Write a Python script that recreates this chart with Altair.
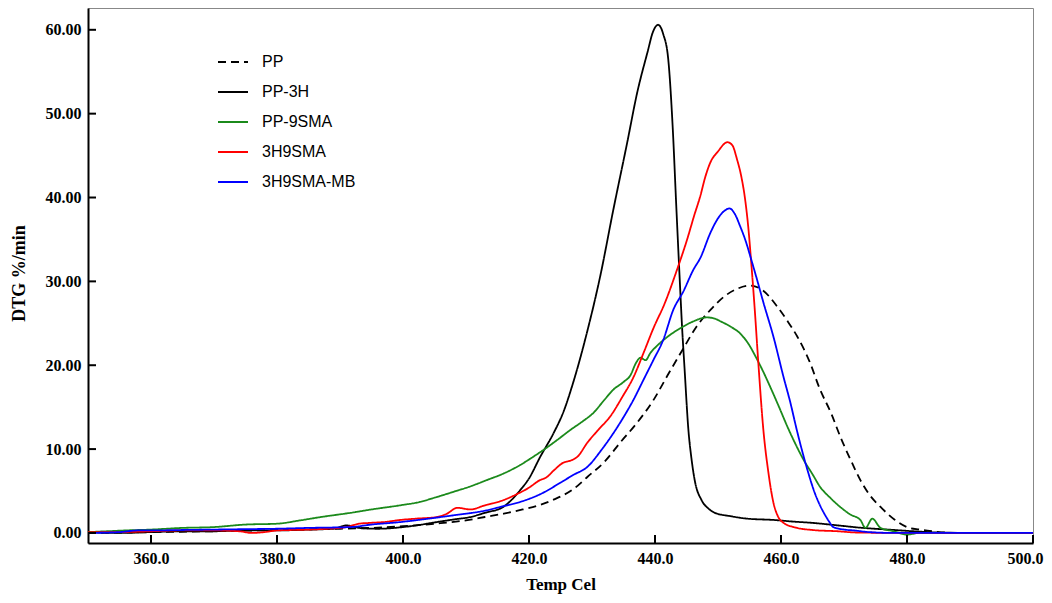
import altair as alt
import pandas as pd

SERIES = ["PP", "PP-3H", "PP-9SMA", "3H9SMA", "3H9SMA-MB"]
COLORS = ["#000000", "#000000", "#1b8a1b", "#ff0000", "#0000ff"]
DASHES = [[8, 5], [1, 0], [1, 0], [1, 0], [1, 0]]

pp_t = [350, 360, 370, 380, 390, 395, 400, 405, 410, 413, 416, 419, 422, 424, 427, 429.3, 432, 434.5, 437,
        439.8, 442, 444.5, 446.5, 448.8, 451, 453, 455.1, 457, 459.4, 461, 462.6, 464.5, 466.2, 468, 469.4,
        471, 472.6, 474, 475.8, 478, 480, 482, 484, 486, 490, 500]
pp_v = [0.0, 0.1, 0.2, 0.35, 0.5, 0.6, 0.8, 1.1, 1.5, 1.9, 2.3, 2.8, 3.4, 4.0, 5.2, 6.7, 8.5, 10.8, 13.0,
        15.9, 18.8, 22.0, 24.5, 26.6, 28.2, 29.1, 29.5, 29.0, 27.0, 25.3, 23.4, 20.5, 17.1, 14.2, 11.5,
        8.8, 6.3, 4.6, 3.1, 1.6, 0.7, 0.4, 0.2, 0.05, 0.0, 0.0]

pp3h_t = [350, 355, 360, 365, 370, 375, 380, 385, 389, 391, 393, 396, 400, 403, 405.4, 408, 410.7, 413, 415.9,
          418.6, 420, 421.8, 423.9, 425.5, 427, 429.2, 431.3, 433.4, 435.6, 437.2, 438.8, 439.7, 440.5, 441.3,
          442.1, 442.8, 443.4, 443.9, 444.3, 444.7, 445.3, 445.8, 446.3, 447.4, 448.5, 449.5, 452, 454.7,
          458.8, 462, 465, 469, 473, 477, 481, 485, 490, 500]
pp3h_v = [0.1, 0.0, 0.1, 0.2, 0.2, 0.3, 0.3, 0.4, 0.5, 0.9, 0.6, 0.5, 0.7, 1.0, 1.3, 1.6, 1.9, 2.4, 3.1,
          5.1, 6.5, 9.1, 11.9, 14.5, 17.9, 23.9, 30.6, 38.6, 46.6, 52.6, 57.3, 59.8, 60.6, 59.5,
          56.5, 48.5, 38.6, 30.6, 24.5, 19.5, 12.3, 8.8, 6.3, 3.9, 2.9, 2.4, 2.0, 1.7,
          1.55, 1.35, 1.2, 0.9, 0.6, 0.4, 0.2, 0.05, 0.0, 0.0]

pp9_t = [350, 353, 356, 360, 365, 370, 375, 380, 383.7, 387, 391.7, 395, 399.6, 402.7, 405, 408, 410.5, 413.3,
         416, 418.6, 420.5, 422.3, 424.5, 426.6, 428.5, 430.2, 432, 433.4, 435, 436.1, 437, 437.7, 438.5,
         439.3, 440.3, 442, 444, 446, 448.2, 449.3, 450.5, 452, 453.5, 454.7, 456.2, 457.2, 458.3, 459.7,
         461, 462.3, 463.6, 465, 466.2, 467.8, 469.4, 471, 472.6, 473.4, 474.5, 475.8, 477.9, 480, 482,
         490, 500]
pp9_v = [0.1, 0.2, 0.3, 0.4, 0.6, 0.7, 1.0, 1.1, 1.5, 1.9, 2.4, 2.8, 3.3, 3.7, 4.2, 4.9, 5.5, 6.3,
         7.1, 8.1, 9.0, 9.9, 11.1, 12.3, 13.3, 14.3, 15.9, 17.1, 18.0, 18.8, 20.3, 20.9, 20.6,
         21.5, 22.3, 23.4, 24.4, 25.2, 25.7, 25.6, 25.2, 24.6, 23.8, 22.7, 20.7, 19.2, 17.4, 15.0,
         12.7, 10.6, 8.7, 7.0, 5.5, 4.2, 3.1, 2.2, 1.55, 0.6, 1.7, 0.6, 0.2, -0.2, 0.0,
         0.0, 0.0]

h9_t = [350, 355, 360, 365, 370, 374, 376, 378, 380, 385, 388, 391, 393, 394.8, 397, 399.6, 402, 405.4, 407,
        408.6, 410.7, 413, 415.9, 418, 420.2, 421.5, 422.9, 424, 425.5, 426.5, 427.7, 429.3, 431, 432.9,
        434.8, 436.6, 438.2, 439.8, 441.5, 443.5, 445.1, 446.2, 447.2, 448, 448.8, 450, 451.5, 452.3, 453,
        453.7, 454.3, 454.8, 455.3, 455.8, 456.4, 457.2, 458, 458.8, 459.5, 460.4, 462, 465, 469, 472,
        480, 490, 500]
h9_v = [0.1, 0.1, 0.2, 0.3, 0.3, 0.2, 0.0, 0.1, 0.3, 0.4, 0.5, 0.7, 1.1, 1.2, 1.3, 1.55, 1.7, 1.9, 2.3,
        3.0, 2.8, 3.3, 3.9, 4.6, 5.5, 6.2, 6.7, 7.5, 8.4, 8.6, 9.1, 10.8, 12.3, 13.9,
        16.2, 18.6, 21.5, 24.5, 27.3, 31.4, 35.0, 37.8, 40.2, 42.5, 44.2, 45.5, 46.6, 46.2, 44.6,
        42.5, 39.8, 36.5, 32.0, 27.0, 20.3, 12.3, 7.2, 3.6, 2.0, 1.2, 0.7, 0.35, 0.2, 0.05,
        0.0, 0.0, 0.0]

mb_t = [350, 355, 358, 360, 365, 370, 375, 380, 385, 391.7, 395, 399.6, 404, 408, 413.3, 416, 418.6, 422,
        425, 427, 429.3, 431.5, 433.4, 435, 436.6, 438.2, 439.8, 441.3, 442.9, 444.5, 446.1, 447.2, 448.8,
        449.9, 451, 451.8, 452.7, 453.5, 454.4, 455.2, 456.2, 457.2, 458.8, 460.4, 461.5, 462.5, 463.6,
        464.4, 465.2, 466, 466.8, 467.6, 468.3, 470, 471.5, 474, 478, 490, 500]
mb_v = [0.0, 0.1, 0.3, 0.3, 0.35, 0.4, 0.45, 0.5, 0.6, 0.7, 1.0, 1.3, 1.7, 2.1, 2.7, 3.2, 3.7, 4.7,
        6.0, 6.9, 7.9, 9.9, 11.9, 13.8, 15.9, 18.3, 20.7, 23.0, 26.6, 28.8, 31.4, 32.8, 35.8,
        37.4, 38.4, 38.7, 38.0, 36.6, 34.8, 32.8, 30.2, 27.5, 23.4, 18.6, 15.5, 12.3, 9.1,
        7.0, 5.1, 3.6, 2.4, 1.4, 0.7, 0.4, 0.3, 0.1, 0.0, 0.0, 0.0]

X_TICKS = [360, 380, 400, 420, 440, 460, 480, 500]
Y_TICKS = [0, 10, 20, 30, 40, 50, 60]
X_TITLE = "Temp Cel"
Y_TITLE = "DTG %/min"

rows = []
for name, ts, vs in [("PP", pp_t, pp_v), ("PP-3H", pp3h_t, pp3h_v), ("PP-9SMA", pp9_t, pp9_v),
                     ("3H9SMA", h9_t, h9_v), ("3H9SMA-MB", mb_t, mb_v)]:
    for i, (t, v) in enumerate(zip(ts, vs)):
        rows.append({"series": name, "T": t, "v": v, "order": i})
df = pd.DataFrame(rows)

xscale = alt.Scale(domain=[350, 500], nice=False, zero=False)
yscale = alt.Scale(domain=[-1.2, 62.6], nice=False, zero=False)

xaxis = alt.Axis(values=X_TICKS, format=".1f", ticks=False, tickSize=0, grid=False,
                 labelFont="Liberation Serif", labelFontWeight="bold", labelFontSize=16,
                 labelColor="#000", labelPadding=7, domainColor="#000", domainWidth=2,
                 titleFont="Liberation Serif", titleFontWeight="bold", titleFontSize=17,
                 titleColor="#000", titleY=41, titleBaseline="middle",
                 labelFlush=True, labelFlushOffset=10)
yaxis = alt.Axis(values=Y_TICKS, format=".2f", ticks=False, tickSize=0, grid=False,
                 labelFont="Liberation Serif", labelFontWeight="bold", labelFontSize=16,
                 labelColor="#000", labelPadding=7, domainColor="#000", domainWidth=2,
                 titleFont="Liberation Serif", titleFontWeight="bold", titleFontSize=18,
                 titleColor="#000", titleX=-69, titleY=265, titleBaseline="middle",
                 titleAlign="center", labelFlush=False)

legend = alt.Legend(
    title=None, orient="none", legendX=129, legendY=38, symbolType="stroke", symbolSize=900,
    symbolStrokeWidth=2, labelFont="Liberation Sans", labelFontSize=16, labelColor="#000000",
    labelOffset=13, padding=0, rowPadding=6, labelLimit=300,
)

lines = alt.Chart(df).mark_line(strokeWidth=1.8, clip=True, interpolate="monotone").encode(
    x=alt.X("T:Q", scale=xscale, title=X_TITLE, axis=xaxis),
    y=alt.Y("v:Q", scale=yscale, title=Y_TITLE, axis=yaxis),
    color=alt.Color("series:N", scale=alt.Scale(domain=SERIES, range=COLORS), legend=legend),
    strokeDash=alt.StrokeDash("series:N", scale=alt.Scale(domain=SERIES, range=DASHES), legend=legend),
    order="order:Q",
    detail="series:N",
)

xt = alt.Chart(pd.DataFrame({"t": X_TICKS})).mark_rule(color="#000", strokeWidth=2).encode(
    x=alt.X("t:Q", scale=xscale, title=X_TITLE, axis=xaxis), y=alt.value(535), y2=alt.value(527))
yt = alt.Chart(pd.DataFrame({"t": Y_TICKS})).mark_rule(color="#000", strokeWidth=2).encode(
    y=alt.Y("t:Q", scale=yscale, title=Y_TITLE, axis=yaxis), x=alt.value(0), x2=alt.value(8))

chart = alt.layer(lines, xt, yt).properties(
    width=945, height=535,
    autosize=alt.AutoSizeParams(type="none"),
    padding={"left": 80, "top": 0, "right": 11, "bottom": 52},
    background="#ffffff",
).configure_view(stroke="#888888", strokeWidth=1)

chart.save("out.html", embed_options={"renderer": "svg", "actions": False})
